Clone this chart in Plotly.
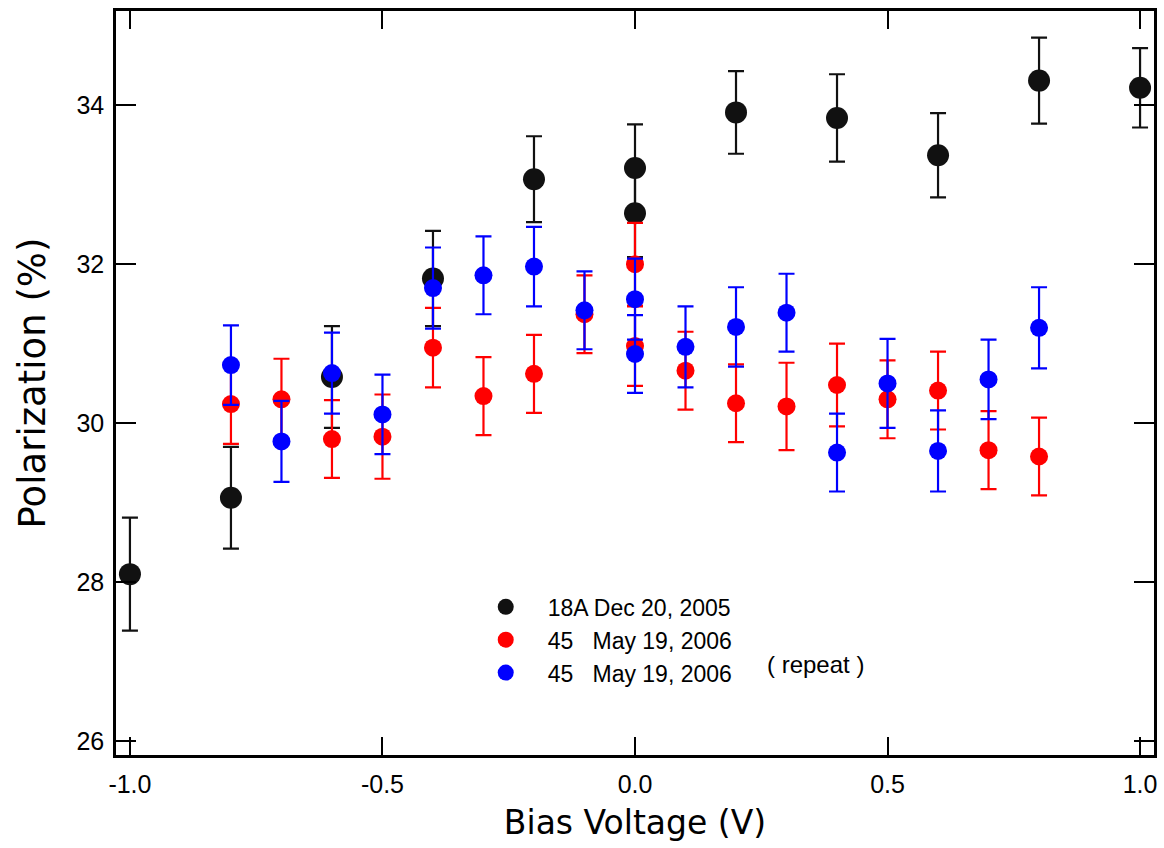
import plotly.graph_objects as go

# Series 1: 18A Dec 20, 2005
x_18a = [-1.0, -0.8, -0.6, -0.4, -0.2, 0.0, 0.0, 0.2, 0.4, 0.6, 0.8, 1.0]
y_18a = [28.10, 29.06, 30.58, 31.82, 33.07, 33.21, 32.64, 33.91, 33.84, 33.37, 34.31, 34.22]
e_18a = [0.71, 0.64, 0.64, 0.60, 0.54, 0.55, 0.55, 0.52, 0.55, 0.53, 0.54, 0.50]

# Series 2: 45 May 19, 2006
x_45a = [-0.8, -0.7, -0.6, -0.5, -0.4, -0.3, -0.2, -0.1, 0.0, 0.0, 0.1, 0.2, 0.3, 0.4, 0.5, 0.6, 0.7, 0.8]
y_45a = [30.24, 30.30, 29.80, 29.83, 30.95, 30.34, 30.62, 31.37, 32.00, 30.97, 30.66, 30.25, 30.21, 30.48, 30.30, 30.41, 29.66, 29.58]
e_45a = [0.50, 0.51, 0.49, 0.53, 0.50, 0.49, 0.49, 0.49, 0.52, 0.50, 0.49, 0.49, 0.55, 0.52, 0.49, 0.49, 0.49, 0.49]

# Series 3: 45 May 19, 2006 (repeat)
x_45b = [-0.8, -0.7, -0.6, -0.5, -0.4, -0.3, -0.2, -0.1, 0.0, 0.0, 0.1, 0.2, 0.3, 0.4, 0.5, 0.6, 0.7, 0.8]
y_45b = [30.73, 29.77, 30.63, 30.11, 31.70, 31.86, 31.97, 31.42, 31.56, 30.87, 30.96, 31.21, 31.39, 29.63, 30.50, 29.65, 30.55, 31.20]
e_45b = [0.50, 0.51, 0.51, 0.50, 0.51, 0.49, 0.50, 0.49, 0.51, 0.49, 0.51, 0.50, 0.49, 0.49, 0.56, 0.51, 0.50, 0.51]

names = ["18A Dec 20, 2005",
         "45\u00a0\u00a0\u00a0May 19, 2006",
         "45\u00a0\u00a0\u00a0May 19, 2006"]

x_ticks = [-1.0, -0.5, 0.0, 0.5, 1.0]
x_ticklabels = ["-1.0", "-0.5", "0.0", "0.5", "1.0"]
y_ticks = [26, 28, 30, 32, 34]

fig = go.Figure()

def add_series(x, y, e, color, size, name):
    fig.add_trace(go.Scatter(
        x=x, y=y, mode="markers", name=name,
        marker=dict(color=color, size=size, line=dict(width=0)),
        error_y=dict(type="data", array=e, visible=True, color=color,
                     thickness=2.2, width=8),
    ))

add_series(x_18a, y_18a, e_18a, "#111111", 22, names[0])
add_series(x_45a, y_45a, e_45a, "#ff0000", 18, names[1])
add_series(x_45b, y_45b, e_45b, "#0000ff", 18, names[2])

tick_font = dict(family="Liberation Sans, Arial", size=25, color="black")

fig.update_layout(
    width=1164, height=848,
    margin=dict(l=116, r=7, t=11, b=93),
    paper_bgcolor="white", plot_bgcolor="white",
    showlegend=True,
    legend=dict(x=0.335, y=0.228, xanchor="left", yanchor="top",
                font=dict(family="Liberation Sans, Arial", size=23, color="black"),
                bgcolor="rgba(0,0,0,0)", tracegroupgap=0, itemwidth=74),
    xaxis=dict(range=[-1.0276, 1.0276], tickvals=x_ticks, ticktext=x_ticklabels,
               ticks="inside", ticklen=18, tickwidth=2, tickcolor="black",
               showline=True, linewidth=2.5, linecolor="black", mirror="ticks",
               showgrid=False, zeroline=False, tickfont=tick_font,
               ticklabelstandoff=5,
               title=dict(text="Bias Voltage (V)",
                          font=dict(family="DejaVu Sans", size=33, color="black"),
                          standoff=15)),
    yaxis=dict(range=[25.824, 35.186], tickvals=y_ticks,
               ticks="inside", ticklen=20, tickwidth=2, tickcolor="black",
               showline=True, linewidth=2.5, linecolor="black", mirror="ticks",
               showgrid=False, zeroline=False, tickfont=tick_font,
               ticklabelstandoff=4,
               title=dict(text="Polarization (%)",
                          font=dict(family="DejaVu Sans", size=37, color="black"),
                          standoff=20)),
    annotations=[dict(text="( repeat )", x=0.625, y=0.122, xref="paper", yref="paper",
                      xanchor="left", yanchor="middle", showarrow=False,
                      font=dict(family="Liberation Sans, Arial", size=24, color="black"))],
)

fig.write_html("out.html", config={"displayModeBar": False},
               post_script="document.body.style.margin='0';")
